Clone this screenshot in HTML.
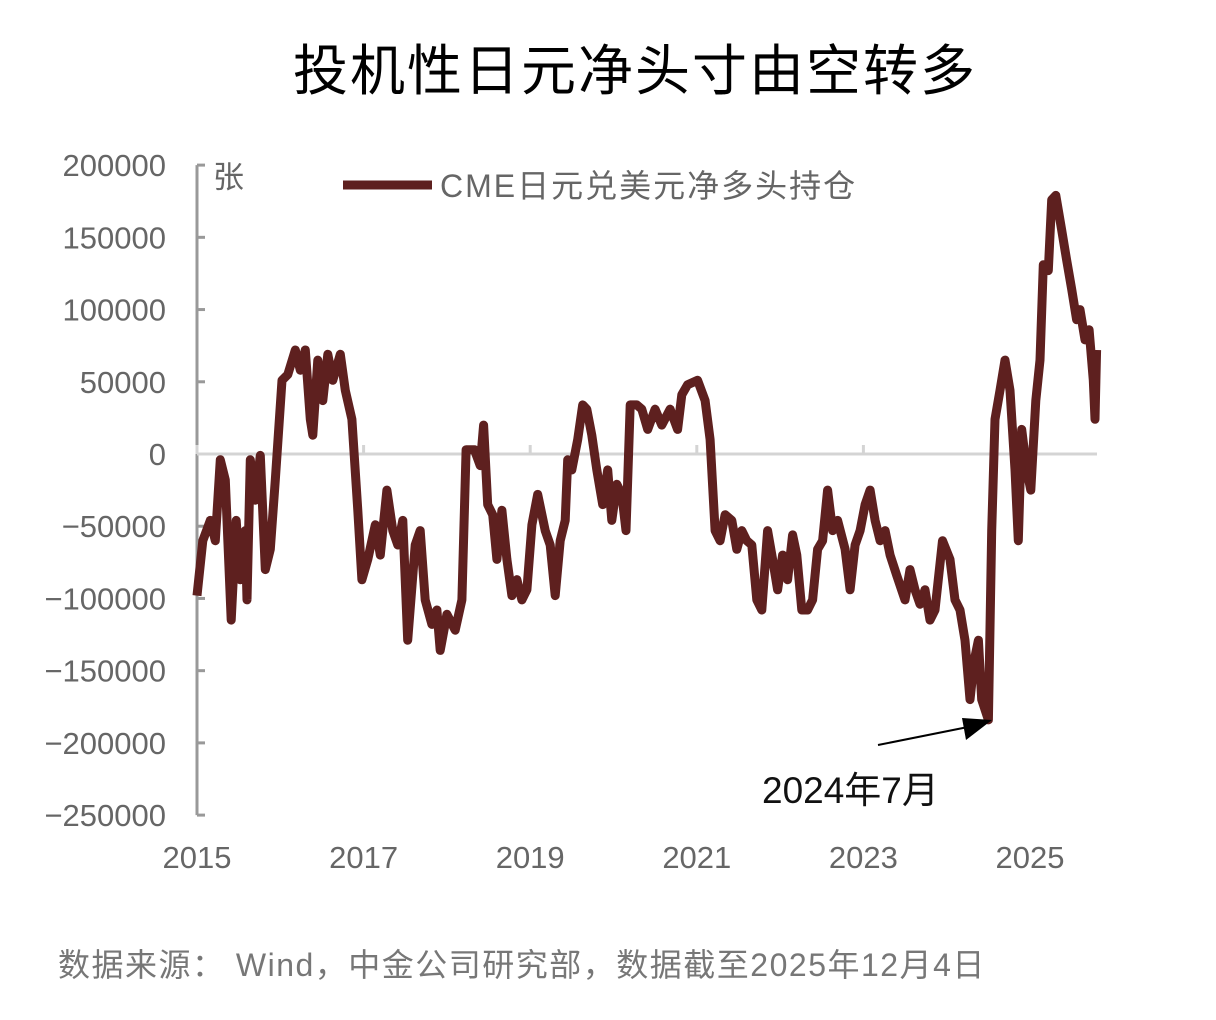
<!DOCTYPE html>
<html><head><meta charset="utf-8"><style>
body{margin:0;background:#fff;width:1216px;height:1020px;overflow:hidden;font-family:"Liberation Sans","Noto Sans CJK SC",sans-serif}
svg{position:absolute;left:0;top:0}
</style></head><body>
<svg width="1216" height="1020">
<text x="635" y="90" text-anchor="middle" font-size="55" letter-spacing="2" fill="#000" font-family="Liberation Sans, Noto Sans CJK SC, sans-serif">投机性日元净头寸由空转多</text>
<g id="yaxis"></g>
<g id="xaxis"></g>
<text x="213" y="188" font-size="31" fill="#666" font-family="Liberation Sans, Noto Sans CJK SC, sans-serif">张</text>
<g>
<line x1="343" y1="185" x2="432" y2="185" stroke="#5e201f" stroke-width="9"/>
<text x="440" y="197" font-size="32" letter-spacing="2" fill="#666" font-family="Liberation Sans, Noto Sans CJK SC, sans-serif">CME日元兑美元净多头持仓</text>
</g>
<path id="series" fill="none" stroke="#5e201f" stroke-width="9" stroke-linejoin="round"/>
<g>
<line x1="878" y1="745" x2="968" y2="727" stroke="#000" stroke-width="2"/>
<polygon points="992,720 966,740 962,718" fill="#000"/>
</g>
<text x="762" y="803" font-size="37" fill="#111" font-family="Liberation Sans, Noto Sans CJK SC, sans-serif">2024年7月</text>
<text x="58" y="976" font-size="32" letter-spacing="1.5" fill="#777" font-family="Liberation Sans, Noto Sans CJK SC, sans-serif">数据来源：  Wind，中金公司研究部，数据截至2025年12月4日</text>
</svg>
<script>
const yTicks=[200000,150000,100000,50000,0,-50000,-100000,-150000,-200000,-250000];
const xTickYears=[2015,2017,2019,2021,2023,2025];
const dates=[2015.00,2015.07,2015.16,2015.22,2015.28,2015.34,2015.41,2015.47,2015.52,2015.58,2015.60,2015.64,2015.70,2015.76,2015.82,2015.88,2015.94,2016.02,2016.09,2016.18,2016.24,2016.30,2016.36,2016.39,2016.45,2016.51,2016.57,2016.63,2016.72,2016.78,2016.86,2016.93,2016.98,2017.05,2017.14,2017.20,2017.28,2017.35,2017.41,2017.47,2017.53,2017.62,2017.68,2017.74,2017.82,2017.88,2017.92,2018.00,2018.10,2018.18,2018.23,2018.33,2018.40,2018.44,2018.49,2018.55,2018.60,2018.66,2018.72,2018.78,2018.84,2018.90,2018.96,2019.02,2019.09,2019.18,2019.24,2019.30,2019.36,2019.42,2019.45,2019.50,2019.57,2019.63,2019.68,2019.74,2019.80,2019.87,2019.93,2019.98,2020.04,2020.10,2020.15,2020.20,2020.28,2020.34,2020.41,2020.50,2020.58,2020.68,2020.77,2020.82,2020.89,2021.01,2021.10,2021.16,2021.22,2021.28,2021.34,2021.42,2021.48,2021.54,2021.60,2021.66,2021.72,2021.78,2021.85,2021.91,2021.97,2022.03,2022.09,2022.15,2022.20,2022.26,2022.33,2022.39,2022.45,2022.51,2022.57,2022.63,2022.69,2022.78,2022.84,2022.90,2022.96,2023.02,2023.08,2023.14,2023.20,2023.26,2023.32,2023.40,2023.50,2023.56,2023.62,2023.68,2023.74,2023.80,2023.86,2023.95,2024.04,2024.10,2024.16,2024.22,2024.28,2024.33,2024.38,2024.42,2024.50,2024.54,2024.58,2024.64,2024.70,2024.76,2024.82,2024.86,2024.90,2024.96,2025.01,2025.07,2025.12,2025.16,2025.22,2025.26,2025.31,2025.38,2025.44,2025.50,2025.56,2025.60,2025.66,2025.71,2025.76,2025.78,2025.80];
const netLong=[-98000,-60000,-46000,-60000,-4000,-18000,-115000,-46000,-87000,-53000,-101000,-4000,-32000,-1000,-80000,-66000,-18000,51000,55000,72000,58000,72000,24000,13000,65000,37000,69000,51000,69000,44000,24000,-39000,-87000,-73000,-49000,-70000,-25000,-53000,-63000,-46000,-129000,-63000,-53000,-101000,-118000,-108000,-136000,-111000,-122000,-101000,3000,3000,-8000,20000,-35000,-42000,-73000,-39000,-73000,-98000,-87000,-101000,-94000,-49000,-28000,-53000,-63000,-98000,-60000,-46000,-4000,-11000,10000,34000,31000,13000,-11000,-35000,-11000,-46000,-21000,-28000,-53000,34000,34000,31000,17000,31000,20000,31000,17000,41000,48000,51000,37000,10000,-53000,-60000,-42000,-46000,-66000,-53000,-60000,-63000,-101000,-108000,-53000,-73000,-94000,-70000,-87000,-56000,-70000,-108000,-108000,-101000,-66000,-60000,-25000,-53000,-46000,-66000,-94000,-63000,-53000,-35000,-25000,-46000,-60000,-53000,-70000,-84000,-101000,-80000,-94000,-104000,-94000,-115000,-108000,-60000,-73000,-101000,-108000,-129000,-170000,-143000,-129000,-170000,-184000,-53000,24000,44000,65000,44000,-11000,-60000,17000,-11000,-25000,37000,65000,131000,127000,176000,179000,155000,134000,114000,93000,100000,79000,86000,51000,24000,72000];
const NS='http://www.w3.org/2000/svg';
const yScale=v=>454-(v/1000)*(650/450);
const xScale=d=>197+(d-2015)*83.3;
const ya=document.getElementById('yaxis'),xa=document.getElementById('xaxis');
function mk(tag,attrs,parent){const e=document.createElementNS(NS,tag);for(const k in attrs)e.setAttribute(k,attrs[k]);parent.appendChild(e);return e;}
const zl=mk('line',{x1:197,x2:1097,y1:yScale(0),y2:yScale(0),stroke:'#d4d4d4','stroke-width':3},xa);


const al=mk('line',{x1:197,x2:197,y1:yScale(200000),y2:yScale(-250000),stroke:'#999','stroke-width':3},ya);


yTicks.forEach(v=>{
 mk('line',{x1:197,x2:205,y1:yScale(v),y2:yScale(v),stroke:'#999','stroke-width':3},ya);
 const t=mk('text',{x:166,y:yScale(v)+11,'text-anchor':'end','font-size':31,fill:'#666'},ya);
 t.textContent=(v<0?'\u2212'+(-v):String(v));
 
 
});
xTickYears.forEach(y=>{
 mk('line',{x1:xScale(y),x2:xScale(y),y1:yScale(0),y2:yScale(0)-9,stroke:'#d4d4d4','stroke-width':3},xa);
 const t=mk('text',{x:xScale(y),y:868,'text-anchor':'middle','font-size':31,fill:'#666'},xa);
 t.textContent=y;
 
 
});
document.getElementById('series').setAttribute('d',dates.map((d,i)=>(i?'L':'M')+xScale(d).toFixed(1)+' '+yScale(netLong[i]).toFixed(1)).join(' '));
</script>
</body></html>
